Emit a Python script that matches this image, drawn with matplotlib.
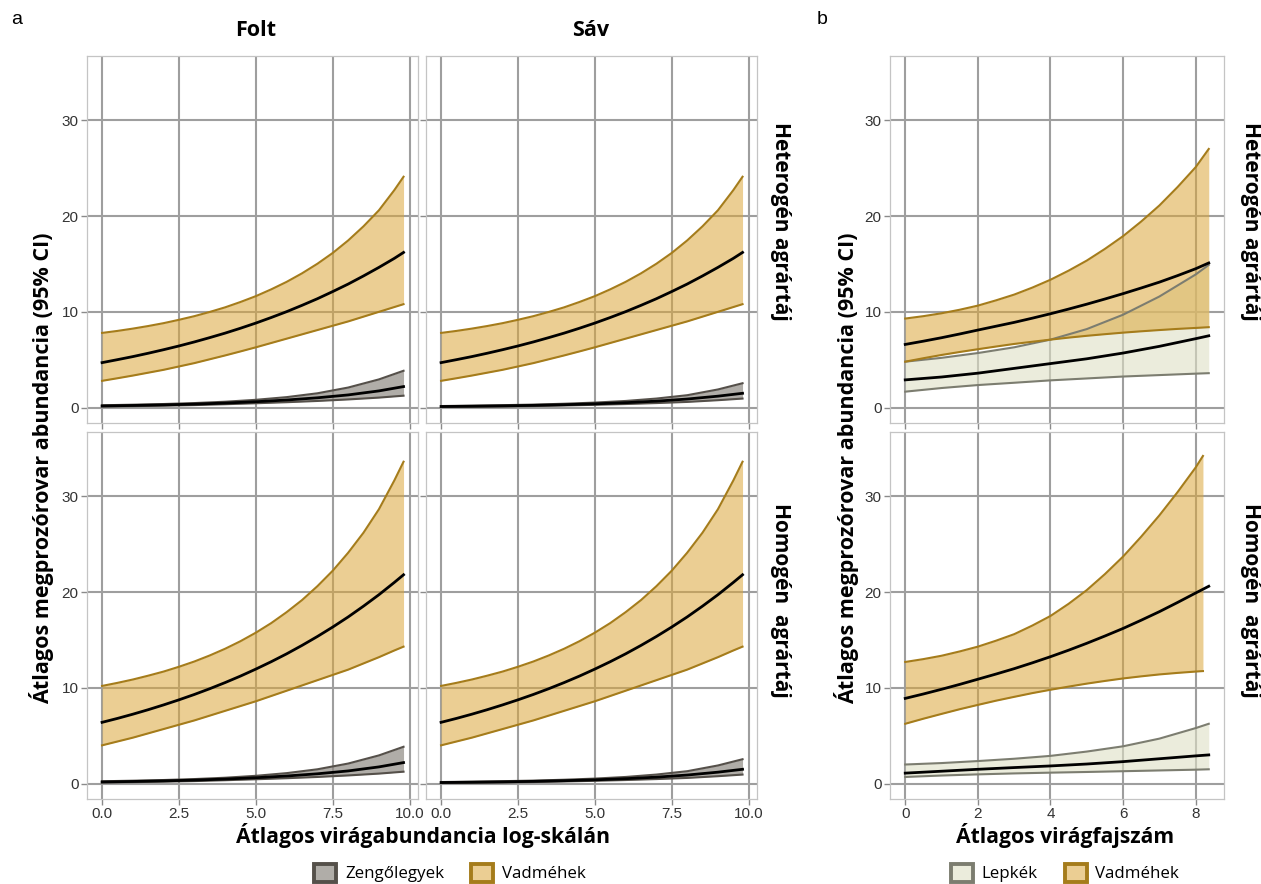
import matplotlib.pyplot as plt
from matplotlib.colors import to_rgba
from matplotlib.patches import Patch

# ---- panel a: flower abundance (log scale) ----
xa = [0, 0.5, 1, 1.5, 2, 2.5, 3, 3.5, 4, 4.5, 5, 5.5, 6, 6.5, 7, 7.5,
      8, 8.5, 9, 9.5, 9.8]
xa_zeng = [0, 1, 2, 3, 4, 5, 6, 7, 8, 9, 9.8]

# wild bees, heterogeneous landscape (same in Folt and Sáv)
vad_het_mean = [4.7, 5.01, 5.33, 5.68, 6.05, 6.44, 6.86, 7.31, 7.78, 8.29, 8.83,
                9.41, 10.02, 10.68, 11.37, 12.12, 12.9, 13.75, 14.64, 15.58, 16.2]
vad_het_lo = [2.8, 3.07, 3.35, 3.65, 3.95, 4.3, 4.65, 5.05, 5.45, 5.87, 6.3,
              6.75, 7.2, 7.65, 8.1, 8.55, 9.0, 9.5, 10.0, 10.5, 10.8]
vad_het_hi = [7.8, 8.01, 8.25, 8.52, 8.82, 9.17, 9.55, 9.99, 10.47, 11.03, 11.64,
              12.35, 13.13, 14.02, 15.02, 16.15, 17.45, 18.93, 20.6, 22.7, 24.1]

# wild bees, homogeneous landscape
vad_hom_mean = [6.4, 6.81, 7.25, 7.72, 8.22, 8.75, 9.31, 9.91, 10.55, 11.23, 11.96,
                12.73, 13.55, 14.43, 15.36, 16.35, 17.4, 18.53, 19.72, 21.0, 21.8]
vad_hom_lo = [4.0, 4.4, 4.8, 5.25, 5.7, 6.15, 6.6, 7.1, 7.6, 8.1, 8.6,
              9.15, 9.7, 10.25, 10.8, 11.35, 11.9, 12.55, 13.2, 13.9, 14.3]
vad_hom_hi = [10.2, 10.52, 10.87, 11.27, 11.7, 12.2, 12.75, 13.38, 14.08, 14.87, 15.76,
              16.76, 17.9, 19.16, 20.61, 22.23, 24.1, 26.2, 28.64, 31.64, 33.6]

# hoverflies, Folt
zeng_folt_mean = [0.18, 0.23, 0.29, 0.37, 0.48, 0.62, 0.8, 1.03, 1.33, 1.75, 2.2]
zeng_folt_lo = [0.12, 0.16, 0.21, 0.27, 0.36, 0.46, 0.57, 0.7, 0.86, 1.05, 1.25]
zeng_folt_hi = [0.25, 0.31, 0.38, 0.48, 0.62, 0.82, 1.1, 1.5, 2.1, 2.95, 3.85]

# hoverflies, Sáv
zeng_sav_mean = [0.12, 0.15, 0.19, 0.24, 0.31, 0.4, 0.52, 0.68, 0.9, 1.2, 1.5]
zeng_sav_lo = [0.08, 0.1, 0.13, 0.17, 0.23, 0.3, 0.38, 0.48, 0.6, 0.78, 0.95]
zeng_sav_hi = [0.17, 0.21, 0.26, 0.32, 0.41, 0.53, 0.7, 0.95, 1.3, 1.9, 2.55]

# ---- panel b: flower species richness ----
xb = [0, 1, 2, 3, 4, 5, 6, 7, 8, 8.36]
xb_vad = [0, 0.5, 1, 1.5, 2, 2.5, 3, 3.5, 4, 4.5, 5, 5.5, 6, 6.5, 7, 7.5, 8, 8.36]
xb_vad_band_hom = [0, 0.5, 1, 1.5, 2, 2.5, 3, 3.5, 4, 4.5, 5, 5.5, 6, 6.5, 7, 7.5, 8, 8.2]

vadb_het_mean = [6.6, 6.94, 7.3, 7.69, 8.1, 8.5, 8.9, 9.34, 9.8, 10.29, 10.8,
                 11.34, 11.9, 12.49, 13.1, 13.78, 14.5, 15.1]
vadb_het_lo = [4.8, 5.16, 5.5, 5.81, 6.1, 6.38, 6.65, 6.88, 7.1, 7.31, 7.5,
               7.67, 7.83, 7.97, 8.1, 8.22, 8.32, 8.4]
vadb_het_hi = [9.3, 9.55, 9.85, 10.22, 10.65, 11.2, 11.8, 12.53, 13.35, 14.3, 15.35,
               16.57, 17.9, 19.43, 21.1, 23.02, 25.1, 27.0]
lep_het_mean = [2.9, 3.2, 3.6, 4.1, 4.6, 5.1, 5.7, 6.4, 7.2, 7.5]
lep_het_lo = [1.67, 2.05, 2.36, 2.6, 2.85, 3.05, 3.25, 3.4, 3.55, 3.6]
lep_het_hi = [4.8, 5.2, 5.7, 6.3, 7.1, 8.2, 9.7, 11.6, 13.9, 14.9]

vadb_hom_mean = [8.9, 9.36, 9.85, 10.36, 10.9, 11.44, 12.0, 12.61, 13.25, 13.93, 14.65,
                 15.41, 16.2, 17.06, 17.95, 18.91, 19.9, 20.6]
vadb_hom_lo = [6.25, 6.78, 7.28, 7.77, 8.22, 8.66, 9.06, 9.45, 9.8, 10.13, 10.44,
               10.72, 10.98, 11.2, 11.4, 11.56, 11.7, 11.75]
vadb_hom_hi = [12.7, 13.0, 13.35, 13.8, 14.3, 14.92, 15.6, 16.5, 17.5, 18.77, 20.2,
               21.87, 23.7, 25.78, 28.0, 30.42, 33.0, 34.2]
lep_hom_mean = [1.1, 1.3, 1.5, 1.68, 1.85, 2.05, 2.3, 2.6, 2.9, 3.0]
lep_hom_lo = [0.7, 0.85, 0.97, 1.07, 1.15, 1.22, 1.3, 1.38, 1.46, 1.5]
lep_hom_hi = [2.0, 2.15, 2.36, 2.6, 2.9, 3.35, 3.9, 4.7, 5.8, 6.25]

xticks_a = [0, 2.5, 5.0, 7.5, 10.0]
xticklabels_a = ['0.0', '2.5', '5.0', '7.5', '10.0']
xticks_b = [0, 2, 4, 6, 8]
yticks = [0, 10, 20, 30]

# group styles: fill colour, alpha, edge colour
STY = {
    'Zengőlegyek': ('#8f8a84', 0.7, '#55504a'),
    'Vadméhek': ('#dba73a', 0.55, '#a57c1b'),
    'Lepkék': ('#dfe0c6', 0.6, '#7c7d70'),
}

BOLD = ['Open Sans', 'DejaVu Sans']
TICK = ['Liberation Sans', 'DejaVu Sans']

W, H = 1261, 884
fig = plt.figure(figsize=(W / 100, H / 100), dpi=100)


def add_ax(x0, y0, x1, y1):
    return fig.add_axes([x0 / W, 1 - y1 / H, (x1 - x0) / W, (y1 - y0) / H])


def style(ax, xticks, xlim, xlab, ylab):
    ax.set_xlim(xlim)
    ax.set_ylim(-1.6, 36.7)
    ax.set_xticks(xticks)
    ax.set_yticks(yticks)
    if xticks == xticks_a:
        ax.set_xticklabels(xticklabels_a)
    ax.grid(True, color='#9e9e9e', lw=1.5)
    ax.set_axisbelow(True)
    for s in ax.spines.values():
        s.set_color('#c4c4c4')
        s.set_linewidth(0.9)
    ax.tick_params(color='#8a8a8a', length=4, width=1.0, labelsize=11,
                   labelcolor='#333333', pad=2,
                   labelbottom=xlab, labelleft=ylab)
    for lab in ax.get_xticklabels() + ax.get_yticklabels():
        lab.set_family(TICK)


def band(ax, x, lo, mean, hi, name, xm=None):
    fc, al, ec = STY[name]
    ax.fill_between(x, lo, hi, color=fc, alpha=al, lw=0, zorder=2)
    ax.plot(x, lo, color=ec, lw=1.5, zorder=3)
    ax.plot(x, hi, color=ec, lw=1.5, zorder=3)
    ax.plot(x if xm is None else xm, mean, color='black', lw=2.0, zorder=4)


rows = [(56, 423), (432, 799)]
xlim_a = (-0.49, 10.27)
xlim_b = (-0.42, 8.78)

# panel a
a_cols = [(87, 418, zeng_folt_lo, zeng_folt_mean, zeng_folt_hi),
          (426, 757, zeng_sav_lo, zeng_sav_mean, zeng_sav_hi)]
vad_rows = [(vad_het_lo, vad_het_mean, vad_het_hi),
            (vad_hom_lo, vad_hom_mean, vad_hom_hi)]
for r, (y0, y1) in enumerate(rows):
    for c, (x0, x1, zl, zm, zh) in enumerate(a_cols):
        ax = add_ax(x0, y0, x1, y1)
        style(ax, xticks_a, xlim_a, r == 1, c == 0)
        band(ax, xa_zeng, zl, zm, zh, 'Zengőlegyek')
        band(ax, xa, *vad_rows[r], 'Vadméhek')

# panel b
ax = add_ax(890, rows[0][0], 1224, rows[0][1])
style(ax, xticks_b, xlim_b, False, True)
band(ax, xb, lep_het_lo, lep_het_mean, lep_het_hi, 'Lepkék')
band(ax, xb_vad, vadb_het_lo, vadb_het_mean, vadb_het_hi, 'Vadméhek')

ax = add_ax(890, rows[1][0], 1224, rows[1][1])
style(ax, xticks_b, xlim_b, True, True)
band(ax, xb, lep_hom_lo, lep_hom_mean, lep_hom_hi, 'Lepkék')
band(ax, xb_vad_band_hom, vadb_hom_lo, vadb_hom_mean, vadb_hom_hi, 'Vadméhek',
     xm=xb_vad)


def ftext(x, y, s, **kw):
    fig.text(x / W, 1 - y / H, s, ha='center', va='center', **kw)


ftext(17, 20, 'a', fontsize=14, family=TICK)
ftext(822, 20, 'b', fontsize=14, family=TICK)
ftext(256, 30, 'Folt', fontsize=15.5, fontweight='bold', family=BOLD)
ftext(591, 30, 'Sáv', fontsize=15.5, fontweight='bold', family=BOLD)

ylab = 'Átlagos megprozórovar abundancia (95% CI)'
ftext(42, 468, ylab, rotation=90, fontsize=15.5, fontweight='bold', family=BOLD)
ftext(847, 468, ylab, rotation=90, fontsize=15.5, fontweight='bold', family=BOLD)

for sx in (781, 1250):
    ftext(sx, 221, 'Heterogén agrártáj', rotation=-90, fontsize=15,
          fontweight='bold', family=BOLD)
    ftext(sx, 600, 'Homogén  agrártáj', rotation=-90, fontsize=15,
          fontweight='bold', family=BOLD)

ftext(423, 836, 'Átlagos virágabundancia log-skálán', fontsize=15.2,
      fontweight='bold', family=BOLD)
ftext(1065, 836, 'Átlagos virágfajszám', fontsize=15.2,
      fontweight='bold', family=BOLD)


def legend(names, cx):
    handles = []
    for n in names:
        fc, al, ec = STY[n]
        handles.append(Patch(facecolor=to_rgba(fc, al), edgecolor=ec,
                             linewidth=2.8, label=n))
    fig.legend(handles=handles, loc='center', ncol=2, frameon=False,
               bbox_to_anchor=(cx / W, 1 - 873 / H), handlelength=1.3,
               handleheight=1.3, handletextpad=0.5, columnspacing=1.6,
               prop={'family': BOLD, 'size': 12.2})


legend(['Zengőlegyek', 'Vadméhek'], 450)
legend(['Lepkék', 'Vadméhek'], 1065)

fig.savefig('out.png', dpi=100)
